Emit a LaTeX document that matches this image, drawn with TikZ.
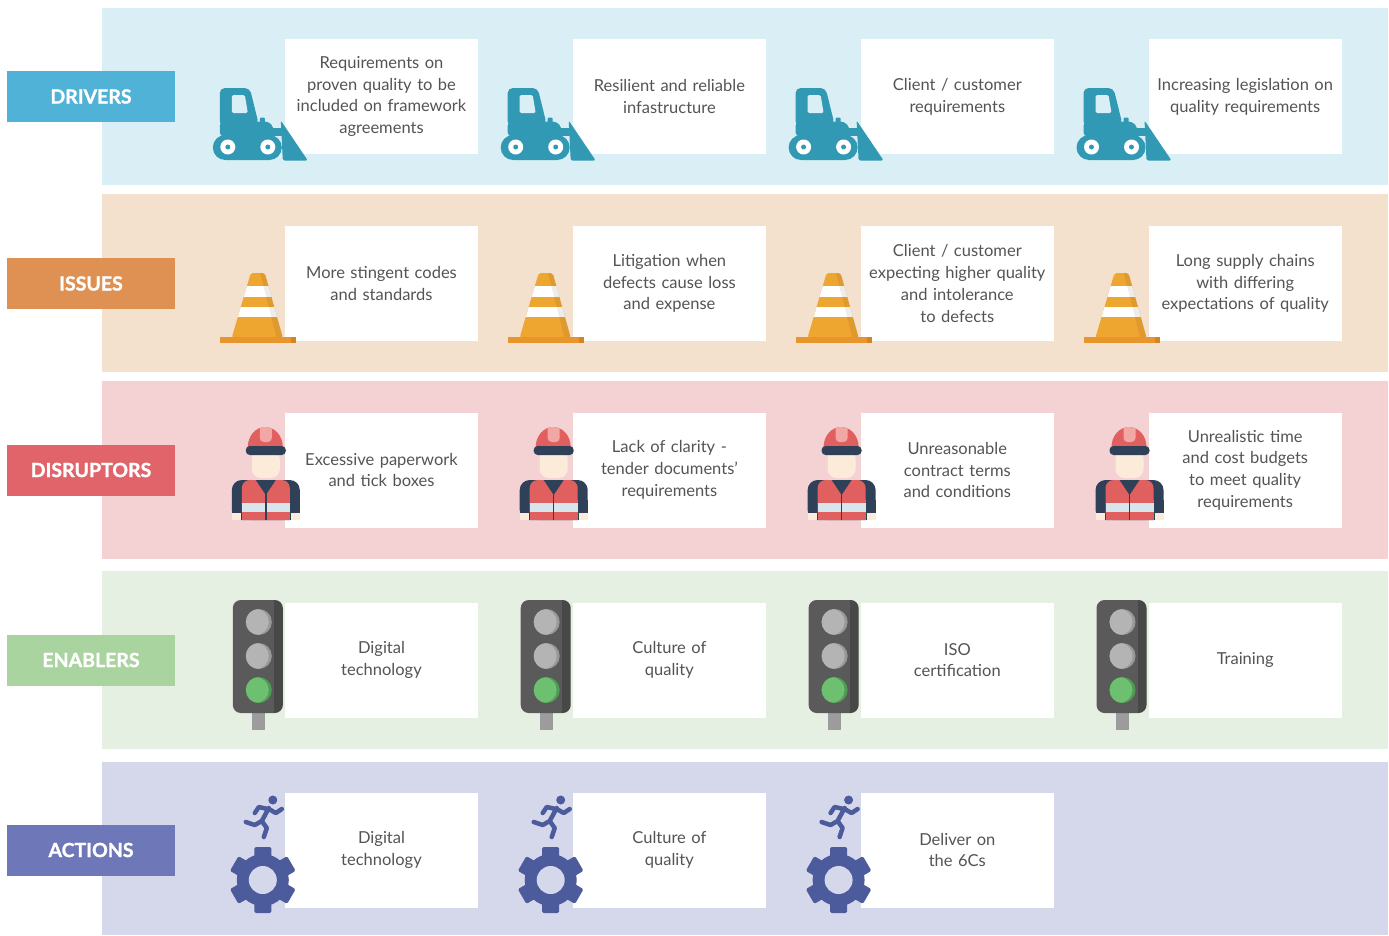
\documentclass[tikz,border=0pt]{standalone}
\usepackage{fontspec}
\setmainfont{Lato}
\newfontfamily\tagfont[BoldFeatures={FakeBold=1.2}]{Lato}
\usetikzlibrary{positioning}

\definecolor{drvbg}{HTML}{DAEFF5}
\definecolor{drvtag}{HTML}{50B2D6}
\definecolor{issbg}{HTML}{F3E0CD}
\definecolor{isstag}{HTML}{DE9152}
\definecolor{disbg}{HTML}{F4D2D3}
\definecolor{distag}{HTML}{E0646A}
\definecolor{enabg}{HTML}{E6F0E2}
\definecolor{enatag}{HTML}{A9D4A0}
\definecolor{actbg}{HTML}{D5D7EA}
\definecolor{acttag}{HTML}{6E78B9}
\definecolor{txtgray}{HTML}{545454}
\definecolor{dozer}{HTML}{3299B5}
\definecolor{conecol}{HTML}{EFA630}
\definecolor{conebase}{HTML}{E8952B}
\definecolor{helmet}{HTML}{E0605F}
\definecolor{ridge}{HTML}{F2A7A5}
\definecolor{navy}{HTML}{2F4159}
\definecolor{skin}{HTML}{FCEBD9}
\definecolor{vestband}{HTML}{D6E6EC}
\definecolor{housing}{HTML}{5A5A5A}
\definecolor{poles}{HTML}{9C9C9C}
\definecolor{lampoff}{HTML}{B4B4B4}
\definecolor{lampoffdk}{HTML}{999999}
\definecolor{lampgo}{HTML}{6DC06F}
\definecolor{lampgodk}{HTML}{4F9A55}
\definecolor{gearcol}{HTML}{4B5B9C}

\begin{document}
\begin{tikzpicture}[x=1pt, y=-1pt]
\tikzset{row/.style={rectangle, minimum width=1286pt, inner sep=0pt}}
\tikzset{tag/.style={rectangle, minimum width=168pt, minimum height=51pt, text=white, font=\tagfont\bfseries\fontsize{19.5}{22}\selectfont, inner sep=0pt}}
\tikzset{box/.style={rectangle, fill=white, minimum width=193pt, minimum height=115pt, text width=184pt, align=center, text=txtgray, font=\fontsize{16.5}{21.7}\selectfont, inner sep=0pt}}

% icons, origin at the west side of each white box
\tikzset{dozer/.pic={
  \fill[dozer, rounded corners=5pt] (-65,30) -- (-65,-8.5) -- (-35,-8.5) -- (-26,28) -- cycle;
  \fill[drvbg, rounded corners=1.5pt] (-53,-1.5) -- (-40,-1.5) -- (-37,16.5) -- (-53,16.5) -- cycle;
  \fill[dozer, rounded corners=4pt] (-65,40) -- (-65,25) -- (-16,25) -- (-11,31) -- (-11,40) -- cycle;
  \fill[dozer, rounded corners=1pt] (-25,21) rectangle (-20,27);
  \fill[dozer] (-14,31) rectangle (-2,39);
  \fill[dozer, rounded corners=2pt] (-4,24) -- (23,64) -- (-2,64) -- cycle;
  \fill[dozer, rounded corners=12.5pt] (-72,38.5) rectangle (-3,63.5);
  \foreach \w in {-57,-17} {
    \fill[white] (\w,50.5) circle (7.5pt);
    \fill[dozer] (\w,50.5) circle (2.5pt);
  }
}}
\tikzset{cone/.pic={
  \begin{scope}
    \clip[rounded corners=2pt] (-53,54) -- (-34,-10.5) -- (-20,-10.5) -- (-2,54) -- cycle;
    \fill[conecol] (-60,-12) rectangle (5,55);
    \fill[white] (-60,2.5) rectangle (5,13.5);
    \fill[white] (-60,23.5) rectangle (5,33.5);
    \fill[black, opacity=0.07] (-25,-12) -- (-19,-12) -- (-1,55) -- (-8,55) -- cycle;
  \end{scope}
  \fill[conebase] (-65,53.5) rectangle (11,59.5);
  \fill[black, opacity=0.1] (6,53.5) rectangle (11,59.5);
}}
\tikzset{worker/.pic={
  \fill[navy, rounded corners=10pt] (-53,10) rectangle (15,50);
  \fill[navy] (-53,30) rectangle (15,50);
  \fill[helmet, rounded corners=8pt] (-43,10) rectangle (5,50);
  \fill[helmet] (-43,30) rectangle (5,50);
  \fill[navy] (-29,10) -- (-9,10) -- (-19,25) -- cycle;
  \fill[vestband] (-43,33) rectangle (5,42);
  \draw[navy, line width=1.5pt] (-19,22) -- (-19,50);
  \fill[skin] (-53,43) rectangle (-44,50);
  \fill[skin] (6,43) rectangle (15,50);
  \fill[skin, rounded corners=9pt] (-33,-20) rectangle (-5,8);
  \begin{scope}
    \clip (-37,-23) arc (180:0:17.5pt and 20pt) -- cycle;
    \fill[helmet] (-40,-45) rectangle (0,-22);
    \fill[ridge, rounded corners=4pt] (-25,-45) rectangle (-13,-28);
  \end{scope}
  \fill[navy, rounded corners=4pt] (-39,-24) rectangle (1,-15);
}}
\tikzset{signal/.pic={
  \fill[poles] (-33,50) rectangle (-20,70);
  \fill[housing, rounded corners=8pt] (-52,-60) rectangle (-2,53);
  \begin{scope}
    \clip[rounded corners=8pt] (-52,-60) rectangle (-2,53);
    \fill[black, opacity=0.2] (-11,-61) rectangle (-1,54);
  \end{scope}
  \foreach \ly/\lc/\ld in {-38/lampoff/lampoffdk, -4/lampoff/lampoffdk, 30/lampgo/lampgodk} {
    \fill[\ld] (-26,\ly) circle (13pt);
    \begin{scope}
      \clip (-26,\ly) circle (13pt);
      \fill[\lc] (-29,\ly) circle (13pt);
    \end{scope}
  }
}}
\tikzset{runner/.pic={
  \begin{scope}[shift={(-22,30)}]
    \fill[gearcol] (0,0) circle (26pt);
    \foreach \a in {30,90,...,330}
      \fill[gearcol, rotate=\a, rounded corners=1.5pt] (20,-8.5) rectangle (33,8.5);
    \fill[actbg] (0,0) circle (14pt);
  \end{scope}
  \fill[gearcol] (-12,-50) circle (4.5pt);
  \draw[gearcol, line width=4.5pt, line cap=round, line join=round]
    (-16,-42) -- (-23,-29)
    (-16,-41) -- (-9,-37) -- (-3,-41)
    (-17,-41) -- (-26,-43) -- (-30,-37)
    (-23,-29) -- (-30,-25) -- (-39,-28)
    (-23,-29) -- (-18,-22) -- (-21,-13);
}}

\useasboundingbox (0,0) rectangle (1389,935);

% coloured rows
\node[row, fill=drvbg, minimum height=177pt] (drvrow) at (745,96.5) {};
\node[row, fill=issbg, minimum height=178pt] (issrow) at (745,283) {};
\node[row, fill=disbg, minimum height=178pt] (disrow) at (745,470) {};
\node[row, fill=enabg, minimum height=178pt] (enarow) at (745,660) {};
\node[row, fill=actbg, minimum height=173pt] (actrow) at (745,848.5) {};

% row titles
\node[tag, fill=drvtag] (drv) at (91,96.5) {DRIVERS};
\node[tag, fill=isstag] (iss) at (91,283.5) {ISSUES};
\node[tag, fill=distag] (dis) at (91,470) {DISRUPTORS};
\node[tag, fill=enatag] (ena) at (91,660) {ENABLERS};
\node[tag, fill=acttag] (act) at (91,850) {ACTIONS};

% drivers
\node[box] (drv1) at (381.5,96.5) {Requirements on\\proven quality to be\\included on framework\\agreements};
\node[box, right=94.5pt of drv1] (drv2) {Resilient and reliable\\infastructure};
\node[box, right=94.5pt of drv2] (drv3) {Client / customer\\requirements};
\node[box, right=94.5pt of drv3] (drv4) {Increasing legislation on\\quality requirements};

% issues
\node[box] (iss1) at (381.5,283.5) {More stingent codes\\and standards};
\node[box, right=94.5pt of iss1] (iss2) {Litigation when\\defects cause loss\\and expense};
\node[box, right=94.5pt of iss2] (iss3) {Client / customer\\expecting higher quality\\and intolerance\\to defects};
\node[box, right=94.5pt of iss3] (iss4) {Long supply chains\\with differing\\expectations of quality};

% disruptors
\node[box] (dis1) at (381.5,470) {Excessive paperwork\\and tick boxes};
\node[box, right=94.5pt of dis1] (dis2) {Lack of clarity -\\tender documents'\\requirements};
\node[box, right=94.5pt of dis2] (dis3) {Unreasonable\\contract terms\\and conditions};
\node[box, right=94.5pt of dis3] (dis4) {Unrealistic time\\and cost budgets\\to meet quality\\requirements};

% enablers
\node[box] (ena1) at (381.5,660) {Digital\\technology};
\node[box, right=94.5pt of ena1] (ena2) {Culture of\\quality};
\node[box, right=94.5pt of ena2] (ena3) {ISO\\certification};
\node[box, right=94.5pt of ena3] (ena4) {Training};

% actions
\node[box] (act1) at (381.5,850) {Digital\\technology};
\node[box, right=94.5pt of act1] (act2) {Culture of\\quality};
\node[box, right=94.5pt of act2] (act3) {Deliver on\\the 6Cs};

\foreach \n in {drv1,drv2,drv3,drv4} \pic at (\n.west) {dozer};
\foreach \n in {iss1,iss2,iss3,iss4} \pic at (\n.west) {cone};
\foreach \n in {dis1,dis2,dis3,dis4} \pic at (\n.west) {worker};
\foreach \n in {ena1,ena2,ena3,ena4} \pic at (\n.west) {signal};
\foreach \n in {act1,act2,act3} \pic at (\n.west) {runner};
\end{tikzpicture}
\end{document}
